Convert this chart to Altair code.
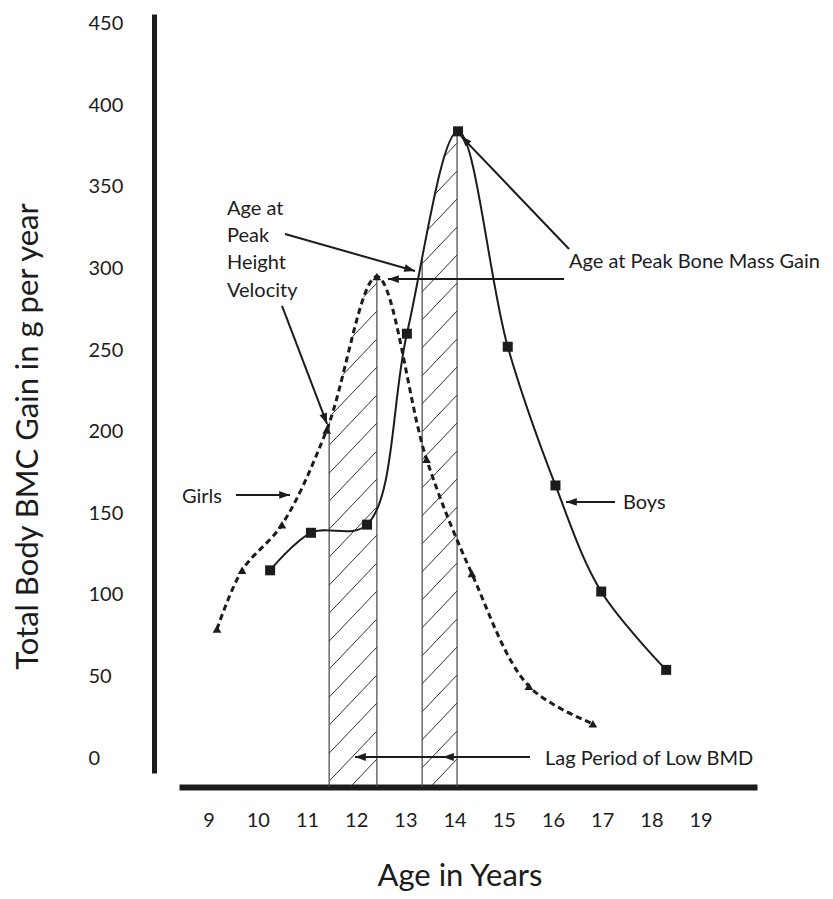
import math
import altair as alt
import pandas as pd

# ---------------- data ----------------
boys_age = [10.25, 11.08, 12.22, 13.03, 14.07, 15.08, 16.05, 16.98, 18.30]
boys_gain = [115, 138, 143, 260, 384, 252, 167, 102, 54]

girls_age = [9.17, 9.68, 10.49, 11.40, 12.42, 13.43, 14.35, 15.51, 16.81]
girls_gain = [79, 115, 143, 201, 295, 183, 113, 44, 21]

# hatched "lag" bands (age range, upper limit = peak of the curve)
band_start = [11.45, 13.34]
band_end = [12.42, 14.05]
band_top = [295, 384]
band_curve = ["girls", "boys"]

x_ticks = [9, 10, 11, 12, 13, 14, 15, 16, 17, 18, 19]
y_ticks = [0, 50, 100, 150, 200, 250, 300, 350, 400, 450]

# annotation texts (age, gain)
note_text = ["Age at", "Peak", "Height", "Velocity",
             "Age at Peak Bone Mass Gain", "Girls", "Boys", "Lag Period of Low BMD"]
note_x = [9.374, 9.374, 9.374, 9.374, 16.325, 8.459, 17.423, 15.837]
note_y = [336.4, 319.9, 303.3, 286.2, 303.9, 159.9, 156.2, -0.6]

# arrows: from (x, y) to tip (x2, y2)
arrow_x = [10.553, 10.492, 16.325, 16.224, 9.557, 17.260, 15.532]
arrow_y = [321.1, 277.0, 311.9, 293.5, 161.2, 156.9, 0.6]
arrow_x2 = [13.195, 11.407, 14.130, 12.646, 10.654, 16.264, 11.976]
arrow_y2 = [298.4, 204.7, 381.1, 293.5, 161.2, 156.9, 0.6]
# extra arrow head on the lag arrow
extra_head_x = [13.764]
extra_head_y = [0.6]

# ---------------- styling ----------------
FONT = "Lato"
INK = "#1c1c1c"
X_DOM = [8.398, 20.146]
Y_DOM = [-9.19, 455.9]
W, H = 578, 759
PX_X = W / (X_DOM[1] - X_DOM[0])
PX_Y = H / (Y_DOM[1] - Y_DOM[0])
Y_BASE = -17.8  # level of the drawn x-axis line

xs = alt.Scale(domain=X_DOM, nice=False, zero=False)
ys = alt.Scale(domain=Y_DOM, nice=False, zero=False)

xax = alt.Axis(values=x_ticks, title="Age in Years", grid=False, ticks=False, tickSize=0,
               domainColor=INK, domainWidth=6, offset=14,
               labelFont=FONT, labelFontSize=20, labelColor=INK, labelPadding=33,
               labelBaseline="middle", labelOverlap=False, labelFlush=False,
               titleFont=FONT, titleFontSize=31, titleFontWeight="normal", titleColor=INK,
               titleX=280.5, titleY=98, titleBaseline="alphabetic", titleAlign="center")
yax = alt.Axis(values=y_ticks, title="Total Body BMC Gain in g per year", grid=False,
               ticks=False, tickSize=0, domainColor=INK, domainWidth=5, offset=25,
               labelFont=FONT, labelFontSize=20, labelColor=INK, labelPadding=66,
               labelAlign="left", labelBaseline="middle", labelOverlap=False,
               titleFont=FONT, titleFontSize=31, titleFontWeight="normal", titleColor=INK,
               titleAngle=270, titleX=-126, titleY=422, titleBaseline="middle",
               titleAlign="center")


def X(f):
    return alt.X(f, type="quantitative", scale=xs, axis=xax)


def Y(f):
    return alt.Y(f, type="quantitative", scale=ys, axis=yax)


boys = pd.DataFrame({"age": boys_age, "gain": boys_gain, "top": 390})
girls = pd.DataFrame({"age": girls_age, "gain": girls_gain, "top": 300})

# hatch segments inside each band rectangle
slope = 1.05 * PX_X / PX_Y       # gain units per year for a ~46 degree line
spacing = 28 / PX_Y              # vertical spacing between hatch lines
segs = []
for x0, x1, top in zip(band_start, band_end, band_top):
    c = Y_BASE - slope * (x1 - x0)
    while c < top:
        xa = max(x0, x0 + (Y_BASE - c) / slope)
        xb = min(x1, x0 + (top - c) / slope)
        if xb > xa:
            segs.append({"x": xa, "y": c + slope * (xa - x0),
                         "x2": xb, "y2": c + slope * (xb - x0)})
        c += spacing
hatch = pd.DataFrame(segs)

edges = pd.DataFrame({
    "x": band_start + band_end,
    "y": [Y_BASE] * 4,
    "y2": band_top + band_top,
})

hatch_layer = alt.Chart(hatch).mark_rule(color="#333333", strokeWidth=1).encode(
    x=X("x"), y=Y("y"), x2="x2", y2="y2")
edge_layer = alt.Chart(edges).mark_rule(color="#444444", strokeWidth=1.2).encode(
    x=X("x"), y=Y("y"), y2="y2")


def mask(df, x0, x1):
    a0, a1 = df["age"].iloc[0], df["age"].iloc[-1]
    o1 = (x0 - 0.03 - a0) / (a1 - a0)
    o2 = (x1 + 0.02 - a0) / (a1 - a0)
    clear = "rgba(255,255,255,0)"
    grad = alt.Gradient(gradient="linear", x1=0, x2=1, y1=0, y2=0, stops=[
        alt.GradientStop(offset=0, color=clear),
        alt.GradientStop(offset=o1, color=clear),
        alt.GradientStop(offset=o1, color="#ffffff"),
        alt.GradientStop(offset=o2, color="#ffffff"),
        alt.GradientStop(offset=o2, color=clear),
        alt.GradientStop(offset=1, color=clear),
    ])
    return alt.Chart(df).mark_area(interpolate="catmull-rom", fill=grad, opacity=1).encode(
        x=X("age"), y=Y("gain"), y2="top")


curves = {"girls": girls, "boys": boys}
mask_layers = [mask(curves[c], x0, x1) for c, x0, x1 in zip(band_curve, band_start, band_end)]

girls_line = alt.Chart(girls).mark_line(interpolate="catmull-rom", color=INK, strokeWidth=3,
                                        strokeDash=[6, 4]).encode(x=X("age"), y=Y("gain"))
boys_line = alt.Chart(boys).mark_line(interpolate="catmull-rom", color=INK,
                                      strokeWidth=2).encode(x=X("age"), y=Y("gain"))
girls_pts = alt.Chart(girls).mark_point(shape="triangle-up", filled=True, size=75, color=INK,
                                        opacity=1).encode(x=X("age"), y=Y("gain"))
boys_pts = alt.Chart(boys).mark_point(shape="square", filled=True, size=100, color=INK,
                                      opacity=1).encode(x=X("age"), y=Y("gain"))

arrows = pd.DataFrame({"x": arrow_x, "y": arrow_y, "x2": arrow_x2, "y2": arrow_y2})
arrow_lines = alt.Chart(arrows).mark_rule(color=INK, strokeWidth=2).encode(
    x=X("x"), y=Y("y"), x2="x2", y2="y2")


def heading(x0, y0, x1, y1):
    dx = (x1 - x0) * PX_X
    dy = -(y1 - y0) * PX_Y
    return math.degrees(math.atan2(dx, -dy)) % 360


heads = pd.DataFrame({
    "x": arrow_x2 + extra_head_x,
    "y": arrow_y2 + extra_head_y,
    "angle": [heading(a, b, c, d) for a, b, c, d in zip(arrow_x, arrow_y, arrow_x2, arrow_y2)]
             + [270.0],
})
head_layer = alt.Chart(heads).mark_point(shape="M0,0L0.65,1.8L-0.65,1.8Z", filled=True,
                                         size=144, color=INK, opacity=1, strokeWidth=0).encode(
    x=X("x"), y=Y("y"), angle=alt.Angle("angle:Q", scale=None))

notes = pd.DataFrame({"text": note_text, "x": note_x, "y": note_y})
note_layer = alt.Chart(notes).mark_text(align="left", baseline="middle", font=FONT,
                                        fontSize=20, color=INK).encode(
    x=X("x"), y=Y("y"), text="text:N")

chart = alt.layer(
    hatch_layer, edge_layer, *mask_layers,
    girls_line, boys_line, girls_pts, boys_pts,
    arrow_lines, head_layer, note_layer,
).properties(
    width=W, height=H,
    padding={"left": 171, "top": 6, "right": 68, "bottom": 118},
    autosize=alt.AutoSizeParams(type="none"),
    background="white",
).configure_view(stroke=None)

chart.save("out.html", embed_options={"renderer": "svg", "actions": False})
